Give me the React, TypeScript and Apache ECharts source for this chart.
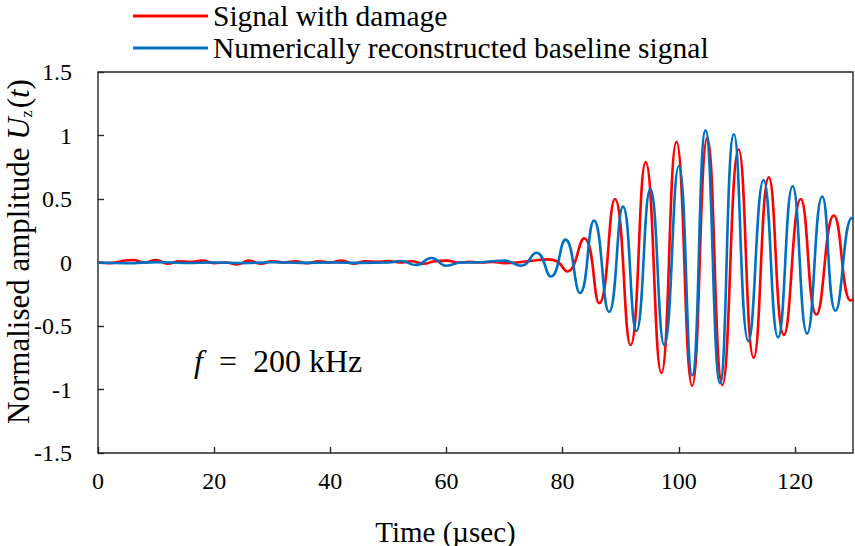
import React, { useEffect, useRef } from "react";
import * as echarts from "echarts";

// Time (µsec) and normalised amplitude
const damageTime = [0, 2, 4, 6, 8, 10, 12, 14, 16, 18, 20, 22, 24, 26, 28, 30, 32, 34, 36, 38, 40, 42, 44, 46, 48, 50, 52, 54, 56, 58, 60, 62, 64, 66, 68, 70, 72, 74, 76, 77.5, 79, 80.8, 83.7, 86.3, 89.0, 91.7, 94.3, 97.0, 99.6, 102.3, 104.9, 107.5, 110.3, 112.9, 115.5, 118.1, 121.0, 123.7, 126.7, 129.6, 130];
const damageAmp = [0, -0.005, 0.01, 0.02, 0.0, 0.02, -0.01, 0.01, 0.005, 0.015, -0.005, 0.0, -0.015, 0.015, -0.01, 0.01, 0.0, 0.01, -0.005, 0.01, 0.0, 0.015, -0.01, 0.01, 0.005, 0.012, 0.0, 0.01, -0.01, 0.01, 0.015, 0.0, 0.005, 0.0, 0.005, -0.005, 0.0, 0.01, 0.02, 0.025, 0.01, -0.07, 0.19, -0.32, 0.5, -0.65, 0.79, -0.87, 0.95, -0.97, 0.98, -0.965, 0.89, -0.75, 0.67, -0.57, 0.5, -0.41, 0.37, -0.3, -0.29];

const baselineTime = [0, 5, 10, 15, 20, 25, 30, 35, 40, 45, 50, 52.2, 54.8, 57.4, 60.0, 62.5, 65, 67.5, 70, 72.9, 75.5, 78.0, 80.5, 83.0, 85.4, 88.0, 90.4, 92.7, 95.1, 97.5, 100.0, 102.3, 104.6, 107.1, 109.5, 112.0, 114.6, 117.1, 119.6, 122.1, 124.7, 127.0, 129.8, 130];
const baselineAmp = [0, -0.005, 0.003, -0.004, 0.0, -0.005, 0.002, -0.003, 0.0, -0.003, 0.0, 0.012, -0.02, 0.035, -0.025, 0.0, 0.0, 0.008, 0.015, -0.025, 0.077, -0.11, 0.18, -0.24, 0.33, -0.39, 0.44, -0.54, 0.58, -0.65, 0.76, -0.89, 1.04, -0.95, 1.01, -0.62, 0.65, -0.59, 0.6, -0.56, 0.52, -0.38, 0.35, 0.34];

const seriesNames = ["Signal with damage", "Numerically reconstructed baseline signal"];
const seriesColors = ["#ff0000", "#0070c0"];

const SERIF = "Liberation Serif";

function pairs(xs: number[], ys: number[]) {
  return xs.map((x, i) => [x, ys[i]]);
}

export default function App() {
  const ref = useRef<HTMLDivElement>(null);
  useEffect(() => {
    if (!ref.current) return;
    const chart = echarts.init(ref.current, undefined, { renderer: "svg" });
    chart.setOption({
      animation: false,
      backgroundColor: "#ffffff",
      legend: {
        orient: "vertical",
        left: 133,
        top: 1,
        padding: 0,
        itemWidth: 75,
        itemHeight: 3,
        itemGap: 2,
        icon: "rect",
        textStyle: { fontFamily: SERIF, fontSize: 29.5, color: "#000" },
        data: seriesNames,
      },
      grid: {
        left: 98,
        right: 2,
        top: 72,
        bottom: 93,
        containLabel: false,
        outerBoundsMode: "none",
        show: true,
        borderColor: "#262626",
        borderWidth: 1.4,
        backgroundColor: "transparent",
      },
      xAxis: {
        type: "value",
        min: 0,
        max: 130,
        interval: 20,
        name: "Time (µsec)",
        nameLocation: "middle",
        nameGap: 64,
        nameMoveOverlap: false,
        nameTextStyle: { fontFamily: SERIF, fontSize: 29, color: "#000", padding: [0, 60, 0, 0] },
        axisLine: { show: false, onZero: false },
        axisTick: { show: true, inside: true, length: 6, lineStyle: { color: "#262626", width: 1.4 } },
        axisLabel: {
          fontFamily: SERIF,
          fontSize: 24,
          color: "#000",
          margin: 16,
          showMaxLabel: false,
        },
        splitLine: { show: false },
      },
      yAxis: {
        type: "value",
        min: -1.5,
        max: 1.5,
        interval: 0.5,
        name: "Normalised amplitude {i|U}{sub|z}{n|(}{i|t}{n|)}",
        nameLocation: "middle",
        nameGap: 64,
        nameMoveOverlap: false,
        nameTextStyle: {
          fontFamily: SERIF,
          fontSize: 31,
          color: "#000",
          padding: [0, 0, 0, 22],
          rich: {
            i: { fontFamily: SERIF, fontSize: 31, fontStyle: "italic", color: "#000" },
            n: { fontFamily: SERIF, fontSize: 31, color: "#000" },
            sub: { fontFamily: SERIF, fontSize: 16, color: "#000", verticalAlign: "bottom", padding: [0, 2, 0, 0] },
          },
        },
        axisLine: { show: false, onZero: false },
        axisTick: { show: true, inside: true, length: 6, lineStyle: { color: "#262626", width: 1.4 } },
        axisLabel: { fontFamily: SERIF, fontSize: 24, color: "#000", margin: 26 },
        splitLine: { show: false },
      },
      graphic: [
        {
          type: "text",
          left: 194,
          top: 345,
          style: {
            text: "{i|f}  =  200 kHz",
            fontFamily: SERIF,
            fontSize: 32,
            fill: "#000",
            rich: {
              i: { fontFamily: SERIF, fontSize: 32, fontStyle: "italic", fill: "#000" },
            },
          },
        },
      ],
      series: [
        {
          name: seriesNames[0],
          type: "line",
          data: pairs(damageTime, damageAmp),
          smooth: 0.5,
          showSymbol: false,
          symbol: "none",
          color: seriesColors[0],
          lineStyle: { color: seriesColors[0], width: 2.6 },
          z: 2,
        },
        {
          name: seriesNames[1],
          type: "line",
          data: pairs(baselineTime, baselineAmp),
          smooth: 0.5,
          showSymbol: false,
          symbol: "none",
          color: seriesColors[1],
          lineStyle: { color: seriesColors[1], width: 2.6 },
          z: 3,
        },
      ],
    });
    return () => chart.dispose();
  }, []);
  return <div ref={ref} style={{ width: 855, height: 546, position: "absolute", left: 0, top: 0 }} />;
}
